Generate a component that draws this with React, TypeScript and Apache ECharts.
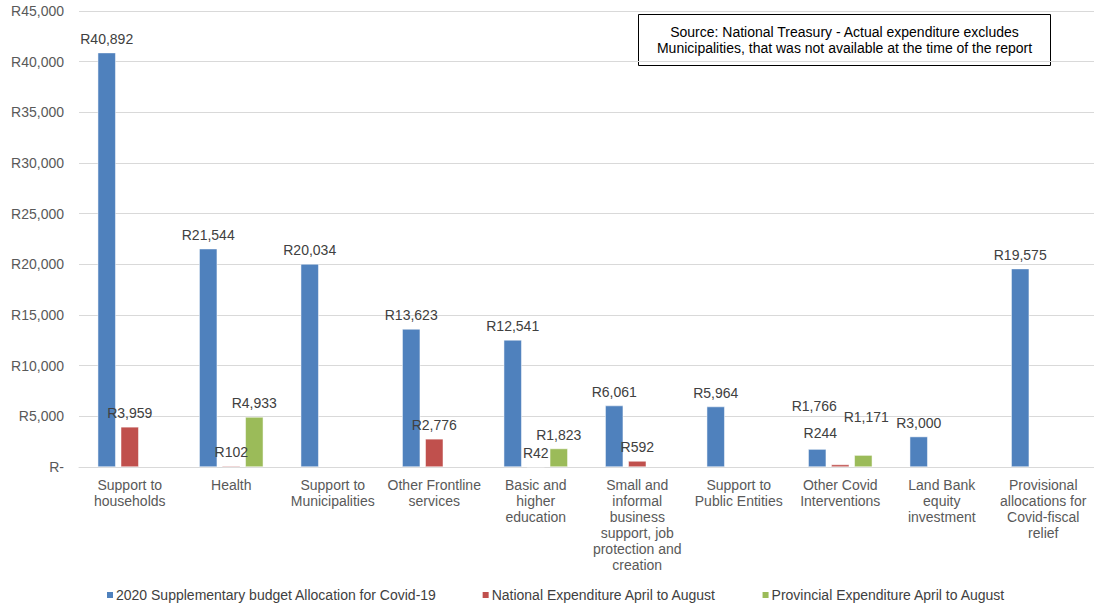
import React, { useEffect, useRef } from "react";
import * as echarts from "echarts";

const categories = [
  "Support to\nhouseholds",
  "Health",
  "Support to\nMunicipalities",
  "Other Frontline\nservices",
  "Basic and\nhigher\neducation",
  "Small and\ninformal\nbusiness\nsupport, job\nprotection and\ncreation",
  "Support to\nPublic Entities",
  "Other Covid\nInterventions",
  "Land Bank\nequity\ninvestment",
  "Provisional\nallocations for\nCovid-fiscal\nrelief",
];

const seriesNames = [
  "2020 Supplementary budget Allocation for Covid-19",
  "National Expenditure April to August",
  "Provincial Expenditure April to August",
];

const allocation = [40892, 21544, 20034, 13623, 12541, 6061, 5964, 1766, 3000, 19575];
const national = [3959, 102, null, 2776, 42, 592, null, 244, null, null];
const provincial = [null, 4933, null, null, 1823, null, null, 1171, null, null];

const yTicks = { min: 0, max: 45000, interval: 5000 };
const colors = ["#4f81bd", "#c0504d", "#9bbb59"];
const sourceText =
  "Source: National Treasury - Actual expenditure excludes\nMunicipalities, that was not available at the time of the report";

// manual label nudges (series index, category index) -> [dx, dy], as in the original
const labelNudges: Record<string, [number, number]> = {
  "0-7": [-3, -29],
  "1-7": [-20, -18],
  "2-7": [3, -24],
};

const fmt = (v: number) => (v === 0 ? "R-" : "R" + v.toLocaleString("en-US"));

export default function App() {
  const ref = useRef<HTMLDivElement>(null);
  useEffect(() => {
    if (!ref.current) return;
    const chart = echarts.init(ref.current, undefined, { renderer: "svg" });
    const font = "Liberation Sans, Arial, sans-serif";
    const label = {
      show: true,
      position: "top" as const,
      distance: 7,
      color: "#404040",
      fontSize: 14,
      fontFamily: font,
      formatter: (p: any) => fmt(p.value),
    };
    const data = [allocation, national, provincial];
    chart.setOption({
      animation: false,
      textStyle: { fontFamily: font },
      grid: { left: 79, right: 0, top: 11, bottom: 144, containLabel: false },
      legend: {
        bottom: 4,
        left: 100,
        itemWidth: 8,
        itemHeight: 8,
        itemGap: 44,
        icon: "rect",
        textStyle: { color: "#404040", fontSize: 14, fontFamily: font, padding: [0, 0, 0, -3] },
        data: seriesNames,
      },
      xAxis: {
        type: "category",
        data: categories,
        axisLine: { lineStyle: { color: "#d9d9d9" } },
        axisTick: { show: false },
        axisLabel: {
          color: "#595959",
          fontSize: 14,
          fontFamily: font,
          margin: 10,
          interval: 0,
          lineHeight: 16,
        },
      },
      yAxis: {
        type: "value",
        ...yTicks,
        axisLine: { show: false },
        axisTick: { show: false },
        splitLine: { lineStyle: { color: "#d9d9d9" } },
        axisLabel: {
          color: "#595959",
          fontSize: 14,
          fontFamily: font,
          margin: 15,
          formatter: (v: number) => fmt(v),
        },
      },
      series: seriesNames.map((name, i) => ({
        name,
        type: "bar",
        data: data[i].map((v, j) => {
          const nudge = labelNudges[`${i}-${j}`];
          return nudge ? { value: v, label: { offset: nudge } } : v;
        }),
        barWidth: 18,
        barGap: "28%",
        itemStyle: { color: colors[i], borderColor: "#ffffff", borderWidth: 0.5 },
        label,
      })),
      graphic: [
        {
          type: "group",
          left: 638,
          top: 14,
          children: [
            {
              type: "rect",
              shape: { x: 0, y: 0, width: 412, height: 51 },
              style: { fill: "#ffffff", stroke: "#000000", lineWidth: 1 },
            },
            {
              type: "text",
              x: 206,
              y: 25.5,
              style: {
                text: sourceText,
                fill: "#000000",
                fontSize: 14,
                fontFamily: font,
                align: "center",
                verticalAlign: "middle",
                lineHeight: 16,
              },
            },
          ],
        },
      ],
    });
    return () => chart.dispose();
  }, []);
  return (
    <div
      ref={ref}
      style={{ position: "absolute", left: 0, top: 0, width: 1094, height: 611, background: "#fff" }}
    />
  );
}
